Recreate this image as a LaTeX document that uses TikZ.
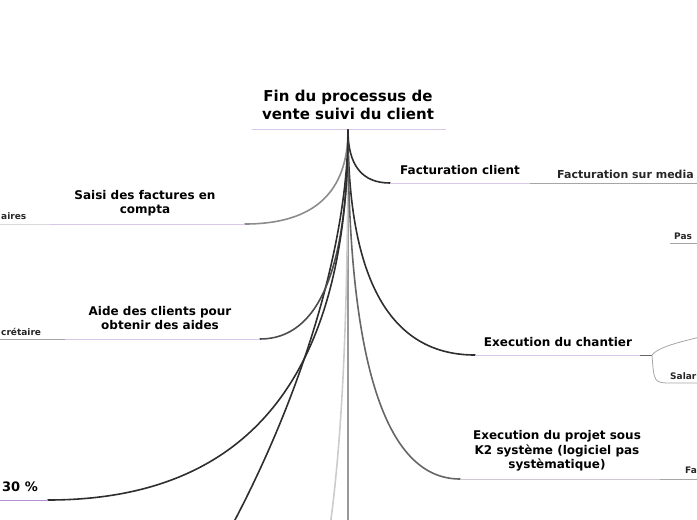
\documentclass[tikz,border=0pt]{standalone}
\usepackage{fontspec}
\setmainfont{DejaVu Sans}
\usetikzlibrary{positioning,calc}

\definecolor{lilas}{HTML}{D9C6E8}
\definecolor{mauve}{HTML}{B58ED6}
\definecolor{fonce}{HTML}{2E2E2E}
\definecolor{gris}{HTML}{666666}

\begin{document}
\begin{tikzpicture}[x=1pt,y=-1pt,
    titre/.style={font=\bfseries\fontsize{15}{18}\selectfont, align=center, inner sep=0pt},
    topic/.style={font=\bfseries\fontsize{12}{14.5}\selectfont, align=center, inner sep=0pt},
    sub/.style={font=\bfseries\fontsize{9}{10}\selectfont, text=black!85, inner sep=0pt},
    branch/.style={line width=1.6pt, line cap=round},
    uline/.style={draw=lilas, line width=0.9pt},
    subline/.style={draw=black!35, line width=0.8pt}]
\useasboundingbox (0,0) rectangle (697,520);
\clip (0,0) rectangle (697,520);

% centre
\node[titre] (root) at (348,105) {Fin du processus de\\ vente suivi du client};
\coordinate (top) at (348,130);
\coordinate (rl) at (252,129);
\coordinate (rr) at (446,129);
\draw[uline] (rl) -- (rr);

% bouts des branches
\coordinate (fc) at (390,183);
\coordinate (ec) at (475,355);
\coordinate (k2) at (460,479);
\coordinate (sf) at (245,224);
\coordinate (ac) at (260,339);
\coordinate (tp) at (48,500);
\coordinate (c7) at (195,590);
\coordinate (c8) at (325,560);
\coordinate (bot) at (348,520);

% lignes droites et courbes qui partent en bas
\draw[branch, draw=black!40] (top) -- (bot);
\draw[branch, draw=black!20] (top) .. controls (348,350) and (340,470) .. (c8);
\draw[branch, draw=fonce] (top) .. controls (348,260) and (288,440) .. (c7);

\foreach \n/\col in {fc/fonce, ec/fonce, k2/gris, sf/black!45, ac/black!70, tp/fonce}
    \draw[branch, draw=\col] (top) .. controls ($(top)!0.667!(top|-\n)$) and ($(\n)!0.667!(top|-\n)$) .. (\n);

% Facturation client
\coordinate (fc1) at (530,183);
\coordinate (fc2) at (697,183);
\draw[uline] (fc) -- (fc1);
\draw[subline] (fc1) -- (fc2);
\node[topic] (fcT) at (460,170) {Facturation client};
\node[sub, font=\bfseries\fontsize{11}{12}\selectfont, anchor=west] (fcS) at (557,174) {Facturation sur media};

% Execution du chantier
\coordinate (ec1) at (640,355);
\coordinate (ec2) at (652,355);
\coordinate (ec3) at (720,332);
\coordinate (ec4) at (672,383);
\coordinate (ec5) at (697,383);
\draw[uline] (ec) -- (ec1);
\draw[subline, draw=black!60] (ec1) -- (ec2);
\draw[subline] (ec2) .. controls (660,345) and (690,340) .. (ec3);
\draw[subline] (ec2) .. controls (654,383) .. (ec4) -- (ec5);
\node[topic] (ecT) at (558,342) {Execution du chantier};
\node[sub, anchor=west] (salT) at (670,376) {Salar};

\coordinate (pa1) at (670,243);
\coordinate (pa2) at (697,243);
\draw[subline] (pa1) -- (pa2);
\node[sub, anchor=west] (paT) at (674,236) {Pas};

% Execution du projet sous K2
\coordinate (k21) at (660,479);
\coordinate (k22) at (697,479);
\draw[uline, draw=lilas!80!black!60] (k2) -- (k21);
\draw[subline] (k21) -- (k22);
\node[topic] (k2T) at (557,451) {Execution du projet sous\\ K2 système (logiciel pas\\ systèmatique)};
\node[sub, anchor=west] (faT) at (685,470) {Fa};

% Saisi des factures
\coordinate (sf1) at (50,224);
\coordinate (sf2) at (0,224);
\draw[uline] (sf) -- (sf1);
\draw[subline, draw=black!15] (sf1) -- (sf2);
\node[topic] (sfT) at (145,203) {Saisi des factures en\\ compta};
\node[sub, anchor=west] (aiT) at (1,216) {aires};

% Aide des clients
\coordinate (ac1) at (65,339);
\coordinate (ac2) at (0,339);
\draw[uline] (ac) -- (ac1);
\draw[subline] (ac1) -- (ac2);
\node[topic] (acT) at (160,318) {Aide des clients pour\\ obtenir des aides};
\node[sub, anchor=west] (seT) at (1,332) {crétaire};

% 30 %
\coordinate (tp1) at (0,500);
\draw[uline, draw=mauve] (tp) -- (tp1);
\node[topic, font=\bfseries\fontsize{13}{14}\selectfont, anchor=west] (tpT) at (2,487) {30 \%};
\end{tikzpicture}
\end{document}
